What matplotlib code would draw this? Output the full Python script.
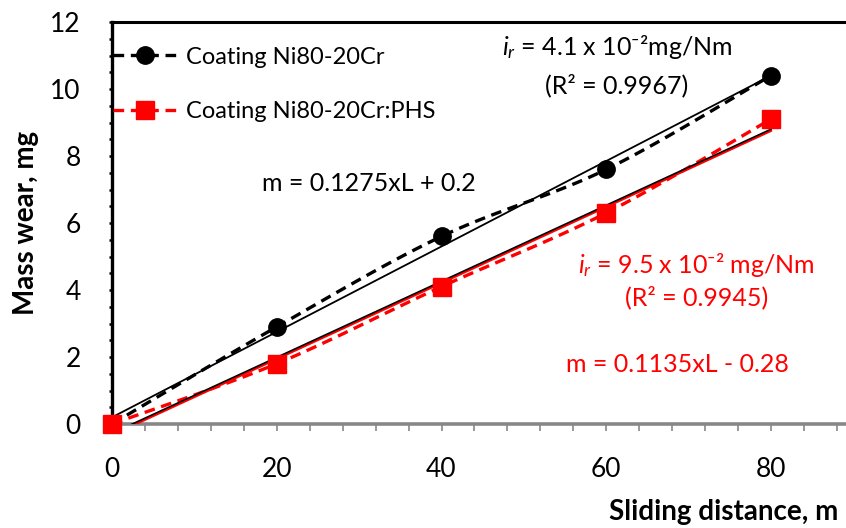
import numpy as np
import matplotlib
matplotlib.use("Agg")
import matplotlib.pyplot as plt
from matplotlib.ticker import MultipleLocator
import matplotlib.transforms as mtransforms

plt.rcParams['font.family'] = ['Lato', 'DejaVu Sans']
plt.rcParams['mathtext.fontset'] = 'custom'
plt.rcParams['mathtext.rm'] = 'Lato'
plt.rcParams['mathtext.it'] = 'Lato:italic'

# data
distance = [0, 20, 40, 60, 80]
wear_nicr = [0.0, 2.9, 5.6, 7.6, 10.4]
wear_nicr_phs = [0.0, 1.8, 4.1, 6.3, 9.1]
label_nicr = "Coating Ni80-20Cr"
label_phs = "Coating Ni80-20Cr:PHS"
fit_nicr = (0.1275, 0.2)
fit_phs = (0.1135, -0.28)


def smooth(x, y, n=30):
    # excel-like smoothed line: bezier segments, control points from neighbours
    x = np.asarray(x, float)
    y = np.asarray(y, float)
    px = np.concatenate([[x[0]], x, [x[-1]]])
    py = np.concatenate([[y[0]], y, [y[-1]]])
    xs, ys = [], []
    t = np.linspace(0, 1, n)
    for i in range(1, len(px) - 2):
        p0 = np.array([px[i], py[i]])
        p3 = np.array([px[i + 1], py[i + 1]])
        p1 = p0 + (np.array([px[i + 1], py[i + 1]]) - np.array([px[i - 1], py[i - 1]])) / 6
        p2 = p3 - (np.array([px[i + 2], py[i + 2]]) - np.array([px[i], py[i]])) / 6
        b = ((1 - t) ** 3)[:, None] * p0 + (3 * (1 - t) ** 2 * t)[:, None] * p1 \
            + (3 * (1 - t) * t ** 2)[:, None] * p2 + (t ** 3)[:, None] * p3
        xs.extend(b[:, 0])
        ys.extend(b[:, 1])
    return np.array(xs), np.array(ys)


fig = plt.figure(figsize=(8.46, 5.28), dpi=100)
ax = fig.add_axes([112 / 846, 1 - 424 / 528, 734 / 846, 402 / 528])

dash = (3.2, 2.0)
xs, ys = smooth(distance, wear_nicr)
ax.plot(xs, ys, color='black', lw=2.4, dashes=dash, zorder=3)
xs, ys = smooth(distance, wear_nicr_phs)
ax.plot(xs, ys, color='#ff0000', lw=2.4, dashes=dash, zorder=3)

ax.plot(distance, wear_nicr, 'o', color='black', ms=12.5, clip_on=False, zorder=5)
ax.plot(distance, wear_nicr_phs, 's', color='#ff0000', ms=12.5, clip_on=False, zorder=5)

# linear trend lines
xl = np.array([distance[0], distance[-1]])
ax.plot(xl, fit_nicr[0] * xl + fit_nicr[1], color='black', lw=1.3, zorder=4)
shift = mtransforms.offset_copy(ax.transData, fig=fig, x=0, y=-1.2, units='points')
ax.plot(xl, fit_phs[0] * xl + fit_phs[1], color='#ff0000', lw=1.6, zorder=4, transform=shift)
ax.plot(xl, fit_phs[0] * xl + fit_phs[1], color='black', lw=1.2, zorder=4)

# legend
h1, = ax.plot([], [], color='black', lw=2.4, dashes=dash, marker='o', ms=12.5)
h2, = ax.plot([], [], color='#ff0000', lw=2.4, dashes=dash, marker='s', ms=12.5)
ax.legend([h1, h2], [label_nicr, label_phs], loc='upper left', frameon=False,
          bbox_to_anchor=(-0.012, 0.962), fontsize=17, handlelength=2.75,
          handletextpad=0.35, labelspacing=1.4, borderaxespad=0)

fs = 18
ax.text(61.3, 11.25, "$i_r$ = 4.1 x 10⁻²mg/Nm", ha='center', va='center', fontsize=fs)
ax.text(61.3, 10.12, "(R² = 0.9967)", ha='center', va='center', fontsize=fs)
ax.text(31.2, 7.19, "m = 0.1275xL + 0.2", ha='center', va='center', fontsize=fs)
ax.text(71.0, 4.75, "$i_r$ = 9.5 x 10⁻² mg/Nm", ha='center', va='center',
        fontsize=fs, color='#ff0000')
ax.text(71.0, 3.79, "(R² = 0.9945)", ha='center', va='center', fontsize=fs, color='#ff0000')
ax.text(68.6, 1.79, "m = 0.1135xL - 0.28", ha='center', va='center', fontsize=fs, color='#ff0000')

ax.set_xlim(0, 734 / 8.2375)
ax.set_ylim(0, 12)
ax.xaxis.set_major_locator(MultipleLocator(20))
ax.xaxis.set_minor_locator(MultipleLocator(4))
ax.yaxis.set_major_locator(MultipleLocator(2))
ax.yaxis.set_minor_locator(MultipleLocator(0.5))
ax.set_xticks([0, 20, 40, 60, 80])

ax.spines['right'].set_visible(False)
ax.spines['left'].set_linewidth(2.4)
ax.spines['top'].set_linewidth(2.2)
ax.spines['bottom'].set_linewidth(2.6)
ax.spines['bottom'].set_color('#878787')

ax.tick_params(axis='x', which='both', direction='out', length=5, width=1.2,
               color='#878787', labelsize=19, pad=19)
ax.tick_params(axis='y', which='both', direction='out', length=2.5, width=1.8,
               color='black', labelsize=19, pad=20)

ax.set_xlabel("Sliding distance, m", fontsize=20, fontweight='bold', ha='right', va='center')
ax.xaxis.set_label_coords(726 / 734, (424 - 512) / 402)
ax.set_ylabel("Mass wear, mg", fontsize=20, fontweight='bold', labelpad=8)

fig.savefig("out.png", dpi=100)
